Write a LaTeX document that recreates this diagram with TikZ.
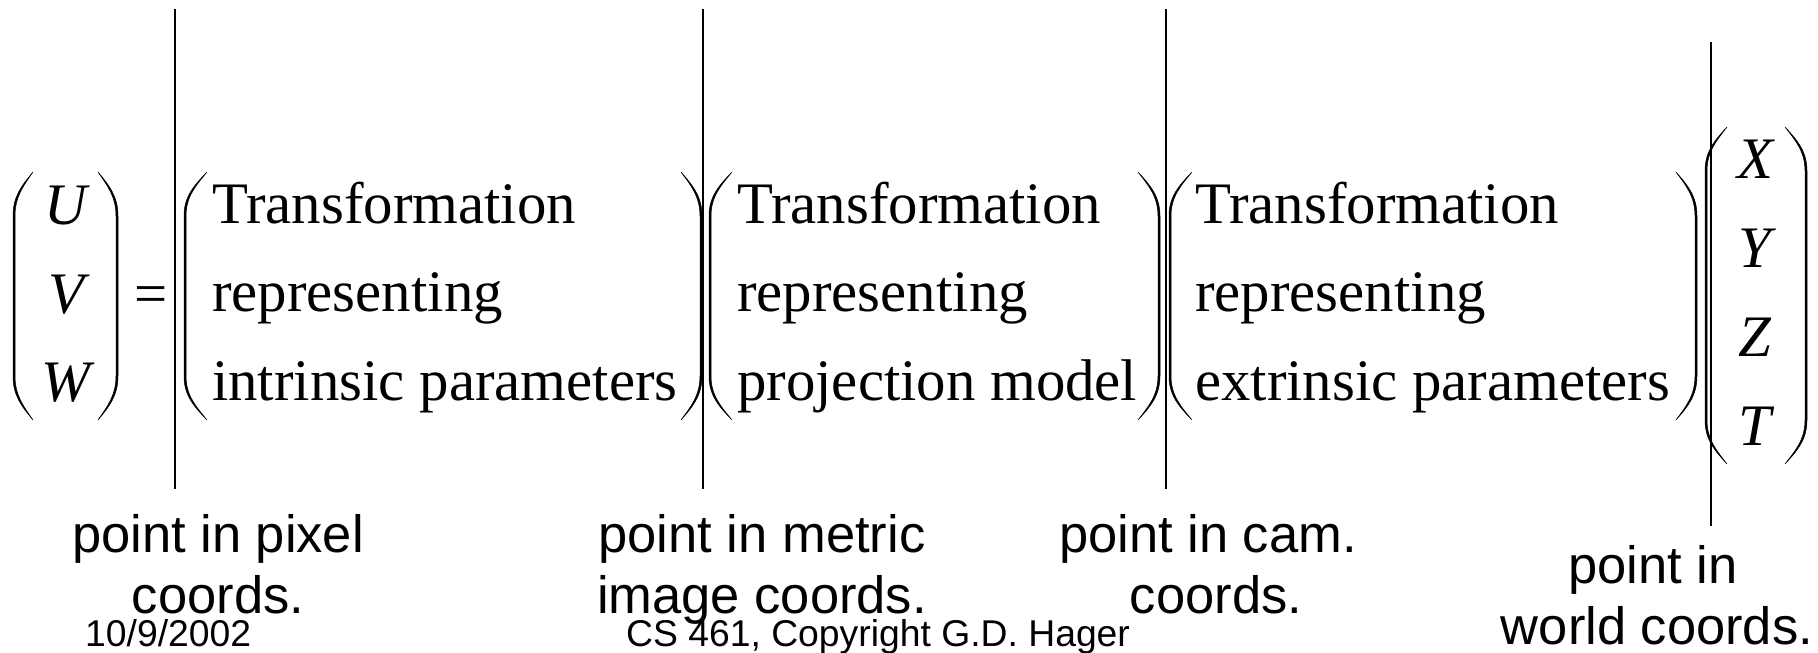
\documentclass[tikz,border=0pt]{standalone}
\usepackage{fontspec}
\setmainfont{Liberation Serif}
\newfontfamily\labfont{Liberation Sans}
\def\pthk{2.0}
\def\pcl{44}
\newcommand{\drawLP}[4]{%
 \pgfmathsetmacro{\pw}{#2-#1}%
 \pgfmathsetmacro{\pa}{#3+\pcl}%
 \pgfmathsetmacro{\pb}{#4-\pcl}%
 \filldraw[parenline] (#2,#3) .. controls ({#1+0.45*\pw},{#3+0.3*\pcl}) and (#1,{#3+0.55*\pcl}) .. (#1,\pa) -- (#1,\pb) .. controls (#1,{#4-0.55*\pcl}) and ({#1+0.45*\pw},{#4-0.3*\pcl}) .. (#2,#4) .. controls ({#1+0.45*\pw+\pthk},{#4-0.3*\pcl}) and ({#1+\pthk},{#4-0.55*\pcl}) .. ({#1+\pthk},\pb) -- ({#1+\pthk},\pa) .. controls ({#1+\pthk},{#3+0.55*\pcl}) and ({#1+0.45*\pw+\pthk},{#3+0.3*\pcl}) .. (#2,#3) -- cycle;}
\newcommand{\drawRP}[4]{%
 \pgfmathsetmacro{\pw}{#2-#1}%
 \pgfmathsetmacro{\pa}{#3+\pcl}%
 \pgfmathsetmacro{\pb}{#4-\pcl}%
 \filldraw[parenline] (#1,#3) .. controls ({#2-0.45*\pw},{#3+0.3*\pcl}) and (#2,{#3+0.55*\pcl}) .. (#2,\pa) -- (#2,\pb) .. controls (#2,{#4-0.55*\pcl}) and ({#2-0.45*\pw},{#4-0.3*\pcl}) .. (#1,#4) .. controls ({#2-0.45*\pw-\pthk},{#4-0.3*\pcl}) and ({#2-\pthk},{#4-0.55*\pcl}) .. ({#2-\pthk},\pb) -- ({#2-\pthk},\pa) .. controls ({#2-\pthk},{#3+0.55*\pcl}) and ({#2-0.45*\pw-\pthk},{#3+0.3*\pcl}) .. (#1,#3) -- cycle;}
\begin{document}
\begin{tikzpicture}[x=1pt,y=-1pt,
  parenline/.style={fill=black,draw=black,line width=0.5pt},
  sepline/.style={draw=black,line width=1.1pt},
  mathtxt/.style={inner sep=0pt,anchor=base,font=\fontsize{58.8}{60}\selectfont\itshape},
  bodytxt/.style={inner sep=0pt,anchor=base west,font=\fontsize{58.8}{60}\selectfont},
  labtxt/.style={inner sep=0pt,anchor=base,font=\labfont\fontsize{52.5}{54}\selectfont},
  foottxt/.style={inner sep=0pt,anchor=base west,font=\labfont\fontsize{37.3}{38}\selectfont}]
\fill[white] (0,0) rectangle (1818,653);
\useasboundingbox (0,0) rectangle (1818,653);
% vertical separators
\coordinate (s1t) at (175,9);   \coordinate (s1b) at (175,489);
\coordinate (s2t) at (703,9);   \coordinate (s2b) at (703,489);
\coordinate (s3t) at (1166,9);  \coordinate (s3b) at (1166,489);
\coordinate (s4t) at (1711,42); \coordinate (s4b) at (1711,526);
\draw[sepline] (s1t) -- (s1b);
\draw[sepline] (s2t) -- (s2b);
\draw[sepline] (s3t) -- (s3b);
\draw[sepline] (s4t) -- (s4b);
% UVW vector
\drawLP{13}{33}{172}{420}
\drawRP{98}{118}{172}{420}
\node[mathtxt] (u) at (66,224) {U};
\node[mathtxt] (v) at (66,313) {V};
\node[mathtxt] (w) at (66,401) {W};
\node[inner sep=0pt,anchor=base,font=\fontsize{58.8}{60}\selectfont] (eq) at (151,313) {=};
% matrix A
\drawLP{184}{207}{172}{420}
\drawRP{681}{702}{172}{420}
\node[bodytxt] (a1) at (212,223) {Transformation};
\node[bodytxt] (a2) at (212,311) {representing};
\node[bodytxt] (a3) at (212,400) {intrinsic parameters};
% matrix B
\drawLP{709}{732}{172}{420}
\drawRP{1138}{1160}{172}{420}
\node[bodytxt] (b1) at (737,223) {Transformation};
\node[bodytxt] (b2) at (737,311) {representing};
\node[bodytxt] (b3) at (737,400) {projection model};
% matrix C
\drawLP{1169}{1192}{172}{420}
\drawRP{1676}{1697}{172}{420}
\node[bodytxt] (c1) at (1195,223) {Transformation};
\node[bodytxt] (c2) at (1195,311) {representing};
\node[bodytxt] (c3) at (1195,400) {extrinsic parameters};
% XYZT vector
\drawLP{1705}{1727}{127}{464}
\drawRP{1785}{1807}{127}{464}
\node[mathtxt] (x) at (1755,178) {X};
\node[mathtxt] (y) at (1755,267) {Y};
\node[mathtxt] (z) at (1755,356) {Z};
\node[mathtxt] (t) at (1755,445) {T};
% labels
\node[labtxt] (p1a) at (218,552) {point in pixel};
\node[labtxt] (p1b) at (218,613) {coords.};
\node[labtxt] (p2a) at (762,552) {point in metric};
\node[labtxt] (p2b) at (762,613) {image coords.};
\node[labtxt] (p3a) at (1208,552) {point in cam.};
\node[labtxt] (p3b) at (1216,613) {coords.};
\node[labtxt] (p4a) at (1653,583) {point in};
\node[labtxt] (p4b) at (1657,644) {world coords.};
% footer
\node[foottxt] (f1) at (85,646) {10/9/2002};
\node[foottxt] (f2) at (626,646) {CS 461, Copyright G.D. Hager};
\end{tikzpicture}
\end{document}
